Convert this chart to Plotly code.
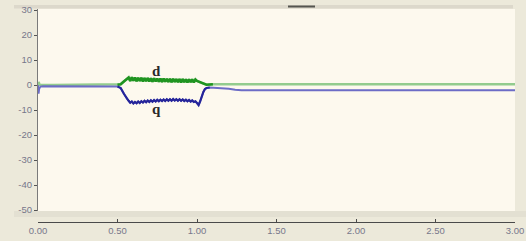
import plotly.graph_objects as go

# ---- data ----
d_time = [0, 0.004, 0.01, 0.03, 0.1, 0.2, 0.3, 0.4, 0.5, 0.52, 0.54, 0.56,
          0.57, 0.58, 0.59, 0.60, 0.61, 0.62, 0.63, 0.64, 0.65, 0.66, 0.67, 0.68,
          0.69, 0.70, 0.71, 0.72, 0.73, 0.74, 0.75, 0.76, 0.77, 0.78, 0.79, 0.80,
          0.81, 0.82, 0.83, 0.84, 0.85, 0.86, 0.87, 0.88, 0.89, 0.90, 0.91, 0.92,
          0.93, 0.94, 0.95, 0.96, 0.97, 0.98, 0.99,
          1.00, 1.02, 1.04, 1.06, 1.08, 1.10, 1.2, 1.5, 2.0, 2.5, 3.0]
d_values = [0, 1.2, 0.1, 0, 0, 0, 0, 0, 0.1, 0.3, 1.4, 2.4,
            3.0, 1.6, 3.1, 1.7, 3.0, 1.5, 2.9, 1.6, 2.9, 1.4, 2.8, 1.5,
            2.8, 1.4, 2.7, 1.3, 2.7, 1.4, 2.6, 1.3, 2.6, 1.2, 2.6, 1.3,
            2.5, 1.2, 2.5, 1.1, 2.5, 1.2, 2.4, 1.1, 2.4, 1.0, 2.4, 1.1,
            2.3, 1.0, 2.3, 1.1, 2.3, 1.0, 2.2,
            1.6, 1.0, 0.4, 0.1, 0.2, 0.3, 0.3, 0.3, 0.3, 0.3, 0.3]

q_time = [0, 0.004, 0.008, 0.015, 0.03, 0.1, 0.2, 0.3, 0.4, 0.5, 0.52, 0.54, 0.56,
          0.57, 0.58, 0.59, 0.60, 0.61, 0.62, 0.63, 0.64, 0.65, 0.66, 0.67, 0.68,
          0.69, 0.70, 0.71, 0.72, 0.73, 0.74, 0.75, 0.76, 0.77, 0.78, 0.79, 0.80,
          0.81, 0.82, 0.83, 0.84, 0.85, 0.86, 0.87, 0.88, 0.89, 0.90, 0.91, 0.92,
          0.93, 0.94, 0.95, 0.96, 0.97, 0.98, 0.99,
          1.00, 1.01, 1.02, 1.03, 1.04, 1.05, 1.06, 1.08, 1.12, 1.16, 1.20, 1.24,
          1.28, 1.5, 2.0, 2.5, 3.0]
q_values = [0, -3.5, -1.5, -0.6, -0.5, -0.5, -0.5, -0.5, -0.5, -0.6, -1.2, -3.5, -5.6,
            -6.3, -7.1, -6.6, -7.4, -6.8, -7.3, -6.6, -7.2, -6.5, -7.0, -6.3, -6.9,
            -6.2, -6.8, -6.1, -6.7, -6.0, -6.6, -5.9, -6.5, -5.9, -6.4, -5.8, -6.4,
            -5.7, -6.3, -5.7, -6.3, -5.6, -6.2, -5.7, -6.3, -5.7, -6.3, -5.8, -6.4,
            -5.9, -6.5, -6.0, -6.6, -6.2, -6.8, -6.5,
            -7.2, -8.0, -6.5, -4.5, -2.8, -1.6, -1.2, -1.0, -1.1, -1.2, -1.5, -1.9,
            -2.1, -2.1, -2.1, -2.1, -2.1]

active_start, active_end = 0.5, 1.1

x_tickvals = [0, 0.5, 1.0, 1.5, 2.0, 2.5, 3.0]
x_ticktext = ["0.00", "0.50", "1.00", "1.50", "2.00", "2.50", "3.00"]
y_tickvals = [30, 20, 10, 0, -10, -20, -30, -40, -50]
y_ticktext = ["30", "20", "10", "0", "-10", "-20", "-30", "-40", "-50"]

series_labels = ["d", "q"]
label_pos = [(0.745, 5.8), (0.745, -9.4)]


def active_slice(t, v):
    idx = [i for i, tt in enumerate(t) if active_start <= tt <= active_end]
    return [t[i] for i in idx], [v[i] for i in idx]


fig = go.Figure()
fig.add_trace(go.Scatter(x=d_time, y=d_values, mode="lines",
                         line=dict(color="#93CC8E", width=2.4), hoverinfo="skip"))
fig.add_trace(go.Scatter(x=q_time, y=q_values, mode="lines",
                         line=dict(color="#6C6CC6", width=1.8), hoverinfo="skip"))
ta, va = active_slice(d_time, d_values)
fig.add_trace(go.Scatter(x=ta, y=va, mode="lines",
                         line=dict(color="#1F9420", width=2.6), hoverinfo="skip"))
ta, va = active_slice(q_time, q_values)
fig.add_trace(go.Scatter(x=ta, y=va, mode="lines",
                         line=dict(color="#25259A", width=2.2), hoverinfo="skip"))

for lab, (lx, ly) in zip(series_labels, label_pos):
    fig.add_annotation(x=lx, y=ly, text="<b>" + lab + "</b>", showarrow=False,
                       font=dict(family="Liberation Serif", size=15, color="#2A2A2A"))

W, H = 526, 241
L, R, T, B = 38, 11, 9, 19
plot_h = H - T - B
y_dom0 = (H - B - 211) / plot_h


def px_x(p):
    return (p - L) / (W - L - R)


def px_y(p):
    return (H - B - p) / plot_h


shapes = [
    dict(type="rect", xref="paper", yref="paper", x0=px_x(14), x1=px_x(513),
         y0=px_y(8.5), y1=px_y(5), fillcolor="#DCD8CB", line=dict(width=0), layer="below"),
    dict(type="rect", xref="paper", yref="paper", x0=px_x(288), x1=px_x(315),
         y0=px_y(7.5), y1=px_y(5.5), fillcolor="#55554F", line=dict(width=0)),
    dict(type="rect", xref="paper", yref="paper", x0=px_x(14), x1=px_x(526),
         y0=px_y(217), y1=px_y(211), fillcolor="#E3E0D2", line=dict(width=0), layer="below"),
]

tickfont = dict(family="Liberation Sans", size=9.5, color="#77778A")

fig.update_layout(
    width=W, height=H,
    margin=dict(l=L, r=R, t=T, b=B, pad=0, autoexpand=False),
    paper_bgcolor="#ECE9DA",
    plot_bgcolor="#FDF9EE",
    showlegend=False,
    shapes=shapes,
    xaxis=dict(range=[0, 3], domain=[0, 1], anchor="free", position=0,
               automargin=False,
               showline=True, linecolor="#4A4A4A", linewidth=1,
               ticks="inside", ticklen=3, tickcolor="#4A4A4A",
               tickvals=x_tickvals, ticktext=x_ticktext, tickfont=tickfont,
               showgrid=False, zeroline=False, fixedrange=True),
    yaxis=dict(range=[-50.4, 30.4], domain=[y_dom0, 1],
               automargin=False,
               showline=True, linecolor="#7A7A7A", linewidth=1,
               ticks="outside", ticklen=3, tickcolor="#555555",
               tickvals=y_tickvals, ticktext=y_ticktext, tickfont=tickfont,
               showgrid=False, zeroline=False, fixedrange=True),
)

fig.write_html(
    "out.html",
    config={"displayModeBar": False},
    post_script="document.body.style.margin='0';document.body.style.background='#ECE9DA';",
)
